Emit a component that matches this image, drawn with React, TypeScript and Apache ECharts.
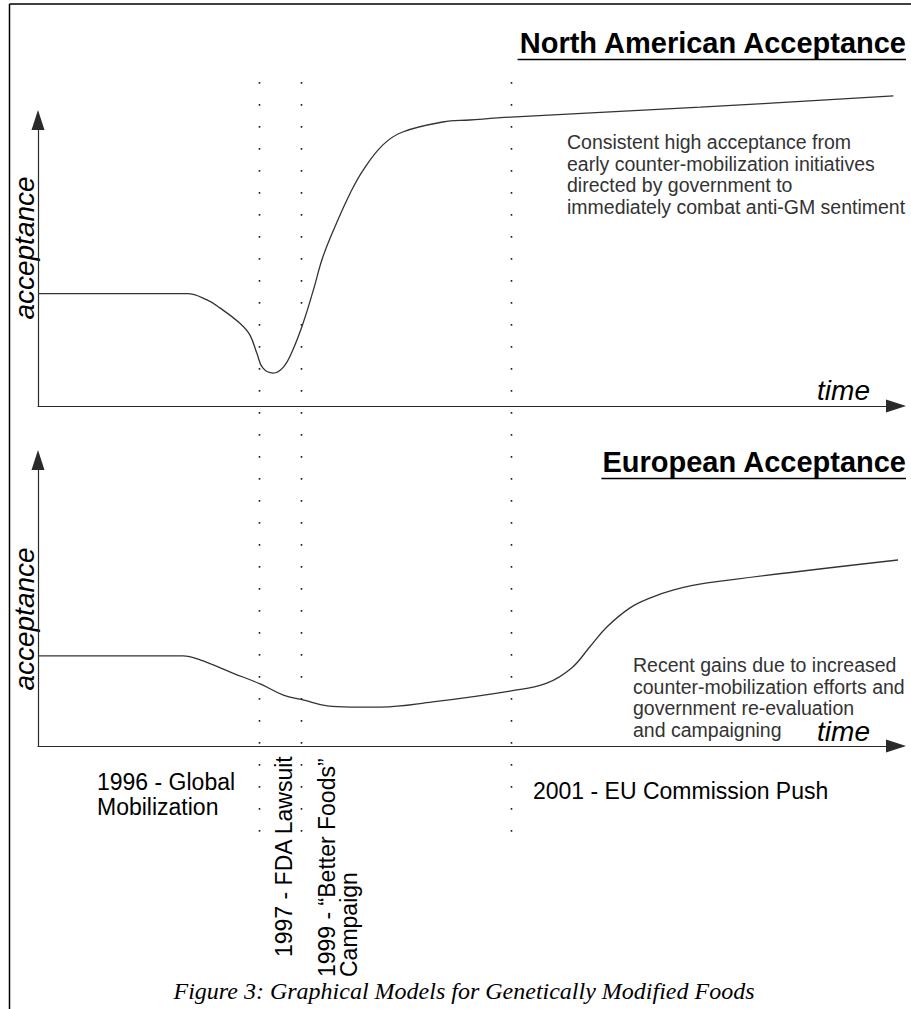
import React, { useEffect, useRef } from "react";
import * as echarts from "echarts";

// North American acceptance curve (time 0-100, acceptance 0-100)
const naTime = [0, 8, 17.4, 19.7, 21.2, 23.5, 24.7, 25.5, 26.2, 27.4, 28.6, 29.7, 30.9, 32.1, 33.2, 34.8, 36.4, 37.9, 40.2, 42.5, 47.2, 50.3, 55.1, 77.2, 99.7];
const naAcceptance = [39.3, 39.3, 39.3, 37.1, 34.3, 29.0, 24.8, 18.5, 13.3, 11.5, 13.6, 19.6, 29.0, 40.6, 52.1, 64.0, 74.5, 82.5, 91.3, 95.8, 99.3, 100, 101.0, 104.5, 108.4];

// European acceptance curve
const euTime = [0, 8, 16.9, 18.9, 22.7, 25.9, 28.6, 30.9, 33.7, 36.4, 39.9, 46.0, 55.0, 59.3, 62.2, 64.3, 66.3, 69.0, 71.3, 74.0, 78.0, 101.3];
const euAcceptance = [31.5, 31.5, 31.5, 30.1, 25.5, 21.7, 17.8, 16.1, 14.0, 13.6, 13.6, 15.4, 19.2, 22.0, 27.3, 34.6, 41.6, 48.3, 51.7, 54.5, 57.0, 65.4];

// Event markers (dotted vertical lines)
const eventTimes = [25.8, 30.7, 55.1];

const naTitle = "North American Acceptance";
const euTitle = "European Acceptance";
const naNote = [
  "Consistent high acceptance from",
  "early counter-mobilization initiatives",
  "directed by government to",
  "immediately combat anti-GM sentiment",
];
const euNote = [
  "Recent gains due to increased",
  "counter-mobilization efforts and",
  "government re-evaluation",
  "and campaigning",
];
const caption = "Figure 3: Graphical Models for Genetically Modified Foods";

const SANS = '"Liberation Sans", Arial, sans-serif';
const SERIF = '"Liberation Serif", "Times New Roman", serif';

function measure(text: string, font: string): number {
  const ctx = document.createElement("canvas").getContext("2d");
  if (!ctx) return text.length * 14;
  ctx.font = font;
  return ctx.measureText(text).width;
}

function txt(text: string, x: number, y: number, font: string, fill: string, align: string, extra: any = {}) {
  return {
    type: "text",
    silent: true,
    x,
    y,
    ...extra,
    style: {
      text,
      x: 0,
      y: 0,
      font,
      fill,
      align,
      textAlign: align,
      verticalAlign: "middle",
      textVerticalAlign: "middle",
    },
  };
}

export default function App() {
  const ref = useRef<HTMLDivElement>(null);
  useEffect(() => {
    if (!ref.current) return;
    const chart = echarts.init(ref.current, null, { renderer: "svg" });
    const axisLine = {
      show: true,
      symbol: ["none", "triangle"],
      symbolSize: [13, 20],
      lineStyle: { color: "#2a2a2a", width: 1.2 },
    };
    const baseAxis = {
      type: "value",
      min: 0,
      max: 100,
      axisLine,
      axisTick: { show: false },
      axisLabel: { show: false },
      splitLine: { show: false },
    };
    chart.setOption({
      animation: false,
      backgroundColor: "#ffffff",
      grid: [
        { left: 38, top: 120, width: 858, height: 286 },
        { left: 38, top: 460, width: 858, height: 286 },
      ],
      xAxis: [
        { ...baseAxis, gridIndex: 0 },
        { ...baseAxis, gridIndex: 1 },
      ],
      yAxis: [
        { ...baseAxis, gridIndex: 0 },
        { ...baseAxis, gridIndex: 1 },
      ],
      series: [
        {
          type: "line",
          xAxisIndex: 0,
          yAxisIndex: 0,
          data: naTime.map((t, i) => [t, naAcceptance[i]]),
          showSymbol: false,
          smooth: 0.4,
          clip: false,
          lineStyle: { color: "#333", width: 1.3 },
          silent: true,
        },
        {
          type: "line",
          xAxisIndex: 1,
          yAxisIndex: 1,
          data: euTime.map((t, i) => [t, euAcceptance[i]]),
          showSymbol: false,
          smooth: 0.4,
          clip: false,
          lineStyle: { color: "#333", width: 1.3 },
          silent: true,
        },
      ],
    });

    const titleFont = `bold 29px ${SANS}`;
    const axisFont = `italic 28px ${SANS}`;
    const noteFont = `19.5px ${SANS}`;
    const labelFont = `23px ${SANS}`;
    const capFont = `italic 24px ${SERIF}`;

    const graphics: any[] = [];
    // frame
    graphics.push({ type: "line", silent: true, shape: { x1: 9.5, y1: 4, x2: 911, y2: 4 }, style: { stroke: "#000", lineWidth: 1.5 } });
    graphics.push({ type: "line", silent: true, shape: { x1: 9.5, y1: 4, x2: 9.5, y2: 1009 }, style: { stroke: "#000", lineWidth: 1.5 } });

    // dotted event lines
    eventTimes.forEach((t) => {
      const p = chart.convertToPixel({ gridIndex: 0 }, [t, 0]) as number[];
      const x = Math.round(p[0]) + 0.5;
      graphics.push({
        type: "line",
        silent: true,
        shape: { x1: x, y1: 82, x2: x, y2: 847 },
        style: { stroke: "#222", lineWidth: 1.6, lineDash: [1.8, 20.2] },
      });
    });

    // titles with underline
    const titles: [string, number][] = [
      [naTitle, 43],
      [euTitle, 462],
    ];
    titles.forEach(([t, y]) => {
      graphics.push(txt(t, 906, y, titleFont, "#000", "right"));
      const w = measure(t, titleFont);
      graphics.push({ type: "line", silent: true, shape: { x1: 906 - w, y1: y + 16.5, x2: 906, y2: y + 16.5 }, style: { stroke: "#000", lineWidth: 1.6 } });
    });

    // axis names
    graphics.push(txt("time", 870, 390, axisFont, "#000", "right"));
    graphics.push(txt("time", 870, 731, axisFont, "#000", "right"));
    graphics.push(txt("acceptance", 24, 248, axisFont, "#000", "center", { rotation: Math.PI / 2 }));
    graphics.push(txt("acceptance", 24, 619, axisFont, "#000", "center", { rotation: Math.PI / 2 }));

    // notes
    naNote.forEach((l, i) => graphics.push(txt(l, 567, 142 + i * 21.7, noteFont, "#333", "left")));
    euNote.forEach((l, i) => graphics.push(txt(l, 633, 665 + i * 21.7, noteFont, "#333", "left")));

    // event labels
    graphics.push(txt("1996 - Global", 97, 782, labelFont, "#000", "left"));
    graphics.push(txt("Mobilization", 97, 807, labelFont, "#000", "left"));
    graphics.push(txt("2001 - EU Commission Push", 533, 791, labelFont, "#000", "left"));
    graphics.push(txt("1997 - FDA Lawsuit", 284, 957, labelFont, "#000", "left", { rotation: Math.PI / 2 }));
    graphics.push(txt("1999 - \u201CBetter Foods\u201D", 327, 977, labelFont, "#000", "left", { rotation: Math.PI / 2 }));
    graphics.push(txt("Campaign", 349, 977, labelFont, "#000", "left", { rotation: Math.PI / 2 }));

    // caption
    graphics.push(txt(caption, 464, 991, capFont, "#000", "center"));

    chart.setOption({ graphic: graphics });

    return () => chart.dispose();
  }, []);
  return <div ref={ref} style={{ position: "absolute", left: 0, top: 0, width: 911, height: 1009 }} />;
}
